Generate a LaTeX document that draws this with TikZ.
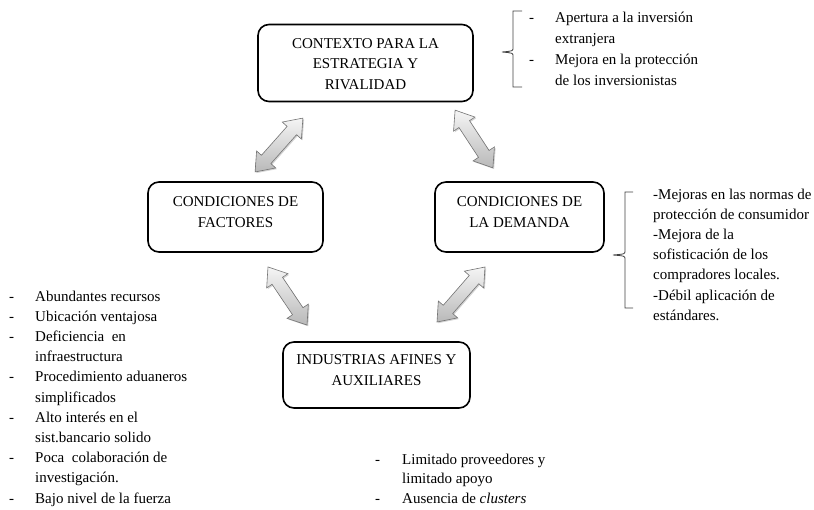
\documentclass[tikz,border=0pt]{standalone}
\usepackage{fontspec}
\setmainfont{Liberation Serif}
\usetikzlibrary{shapes.arrows,shadows,calc}
\tikzset{
  box/.style={draw=black, line width=1.6pt, rounded corners=11pt, fill=white, inner sep=0pt},
  boxtext/.style={align=center, font=\fontsize{15}{20.5}\selectfont, inner sep=0pt, anchor=base},
  dblarr/.style={double arrow, draw=gray!90!black, line width=0.6pt, top color=white!92!gray, bottom color=gray!55,
    inner sep=6pt, double arrow head extend=6.5pt, double arrow tip angle=75,
    drop shadow={shadow xshift=1.2pt, shadow yshift=-1.2pt, opacity=0.35}},
  listtext/.style={inner sep=0pt, anchor=base west, font=\fontsize{15}{20.2}\selectfont},
  brace/.style={draw=black!75, line width=0.8pt}
}
\begin{document}
\begin{tikzpicture}[x=1pt,y=-1pt]
\useasboundingbox (0,0) rectangle (814,509);
% boxes
\node[box, minimum width=215pt, minimum height=77pt] (ctx) at (365.5,63) {};
\node[box, minimum width=175pt, minimum height=70pt] (fac) at (235.5,217) {};
\node[box, minimum width=169pt, minimum height=70pt] (dem) at (519.5,217) {};
\node[box, minimum width=187pt, minimum height=66pt] (ind) at (376.5,375) {};
\node[boxtext] (ctxt) at (365.5,89) {CONTEXTO PARA LA\\ESTRATEGIA Y\\RIVALIDAD};
\node[boxtext] (fact) at (235.5,227) {CONDICIONES DE\\FACTORES};
\node[boxtext] (demt) at (519.5,227) {CONDICIONES DE\\LA DEMANDA};
\node[boxtext] (indt) at (376.5,385) {INDUSTRIAS AFINES Y\\AUXILIARES};
% arrows
\coordinate (a1s) at (303,118); \coordinate (a1e) at (255,172);
\coordinate (a2s) at (455,110); \coordinate (a2e) at (493,168);
\coordinate (a3s) at (268,267); \coordinate (a3e) at (307,325);
\coordinate (a4s) at (485,267); \coordinate (a4e) at (437,322);
\node[dblarr, minimum height=72pt, rotate=48.4] (ar1) at ($(a1s)!0.5!(a1e)$) {};
\node[dblarr, minimum height=69pt, rotate=-56.8] (ar2) at ($(a2s)!0.5!(a2e)$) {};
\node[dblarr, minimum height=70pt, rotate=-56.1] (ar3) at ($(a3s)!0.5!(a3e)$) {};
\node[dblarr, minimum height=73pt, rotate=48.9] (ar4) at ($(a4s)!0.5!(a4e)$) {};
% braces
\draw[brace] (522,11) -- (513,11) -- (513,48) .. controls (513,51) .. (502,52) .. controls (513,53) .. (513,56) -- (513,87) -- (522,87);
\draw[brace] (633,192) -- (625,192) -- (625,251) .. controls (625,254) .. (613,255) .. controls (625,256) .. (625,259) -- (625,308) -- (633,308);
% lists
\node[listtext] (l1) at (529,22) {\fontsize{15}{21}\selectfont\begin{tabular}[t]{@{}p{26pt}@{}l@{}}
-& Apertura a la inversión\\
 & extranjera\\
-& Mejora en la protección\\
 & de los inversionistas
\end{tabular}};
\node[listtext] (l2) at (653,199) {\begin{tabular}[t]{@{}l@{}}
-Mejoras en las normas de\\
protección de consumidor\\
-Mejora de la\\
sofisticación de los\\
compradores locales.\\
-Débil aplicación de\\
estándares.
\end{tabular}};
\node[listtext] (l3) at (9,301) {\begin{tabular}[t]{@{}p{26pt}@{}l@{}}
-& Abundantes recursos\\
-& Ubicación ventajosa\\
-& Deficiencia~ en\\
 & infraestructura\\
-& Procedimiento aduaneros\\
 & simplificados\\
-& Alto interés en el\\
 & sist.bancario solido\\
-& Poca~ colaboración de\\
 & investigación.\\
-& Bajo nivel de la fuerza
\end{tabular}};
\node[listtext] (l4) at (375,464) {\fontsize{15}{19.6}\selectfont\begin{tabular}[t]{@{}p{27pt}@{}l@{}}
-& Limitado proveedores y\\
 & limitado apoyo\\
-& Ausencia de \textit{clusters}
\end{tabular}};
\end{tikzpicture}
\end{document}
